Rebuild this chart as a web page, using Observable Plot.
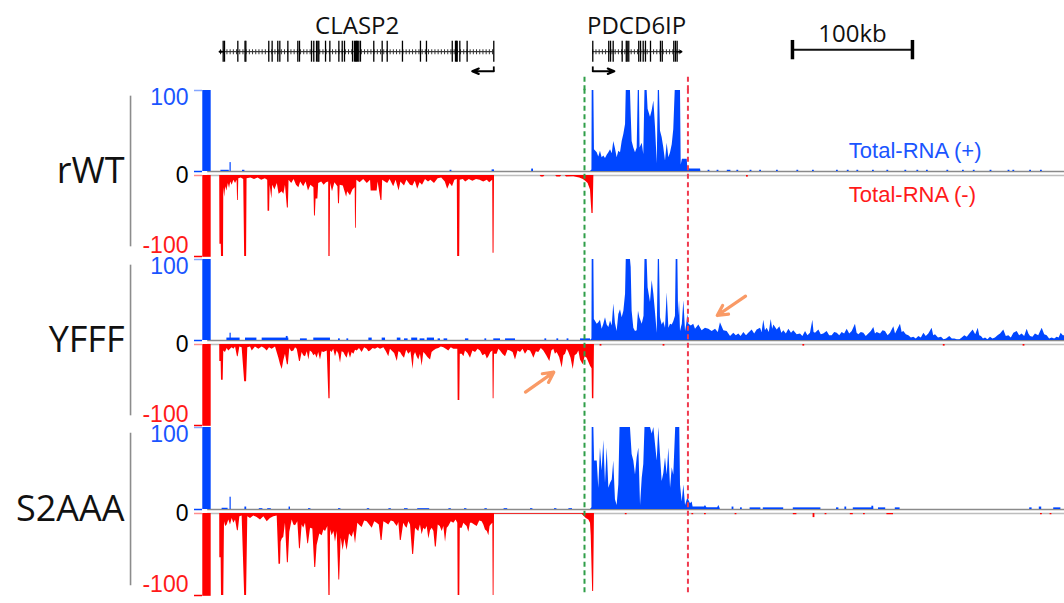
<!DOCTYPE html>
<html><head><meta charset="utf-8">
<script src="https://cdn.jsdelivr.net/npm/d3@7"></script>
<script src="https://cdn.jsdelivr.net/npm/@observablehq/plot@0.6"></script>
<style>
body{margin:0;background:#fff;}
#chart{position:relative;width:1064px;height:603px;overflow:hidden;background:#fff;}
#chart svg{display:block;overflow:visible !important;background:transparent !important;position:relative;}
</style></head><body><div id="chart"></div>
<script>
// ---------- DATA (genomic position in kb from left edge of window, coverage value) ----------
const tracks = ["rWT", "YFFF", "S2AAA"];
const tickLabels = ["100", "0", "-100"];
const strandLabels = ["Total-RNA (+)", "Total-RNA (-)"];
const genes = [
  {name: "CLASP2", start: 1.7, end: 229.4, strand: -1},
  {name: "PDCD6IP", start: 311.9, end: 385, strand: 1}
];
const claspExons = [3.9,5,16.1,22.1,22.8,41.9,44.7,49.4,51.1,57.8,66.1,67.5,77.5,79.4,81.7,82.8,83.6,89.2,92.8,100.3,103.1,105,111.7,113.3,114.3,115,115.8,116.9,118.3,129.4,136.4,140.6,153.3,168.3,173.3,194.8,197.5,198.3,198.9,201.1,207.2,229.4];
const pdcdExons = [311.9,325.2,326.7,328.9,336.4,339.8,340.6,341.9,350.2,351.7,353.9,355.8,360,368.3,369.8,379.4,380.8,382.2];
const scaleBar = {start: 478.3, end: 578.3, label: "100kb"};
const tssLine = 305;     // green dashed
const tesLine = 391.2;   // red dashed

const rWT_plus = [[0,0],[310,0],[311.2,2],[311.4,100],[312.8,100],[313.3,27],[315.6,23],[316.9,18],[318.3,25],[319.7,17],[321.1,19],[322.5,16],[323.9,20],[325.3,23],[326.7,27],[328.1,22],[329.4,37],[330.8,28],[332.2,17],[333.6,25],[335,23],[336.4,37],[337.8,46],[339.2,58],[339.8,100],[343.3,100],[343.9,71],[344.7,37],[346.1,29],[347.5,23],[348.9,29],[349.8,100],[350.8,100],[351.3,29],[353.1,35],[354.4,21],[355.4,100],[357.2,100],[358,77],[360,67],[361.4,75],[362.8,87],[364.2,54],[365.6,10],[366.5,100],[367.5,100],[368.3,50],[369.7,42],[371.1,29],[372.5,13],[373.9,35],[375.3,17],[376.7,23],[378.1,33],[379.4,52],[380.6,100],[385,100],[385.6,8],[386.6,15],[390.6,15],[391.1,4],[393,3],[401.7,3],[402,0],[705,0]];
const rWT_minus = [[0,0],[1,0],[1.2,-85],[2.3,-85],[2.5,-100],[4.2,-100],[4.4,-15],[5.2,-27],[6,-14],[7,-19],[8.2,-10],[9.2,-16],[10.2,-8],[11.4,-12],[12.8,-6],[14.2,-10],[15.5,-6],[15.9,-31],[16.5,-31],[16.9,-4],[19,-3],[21,-5],[21.8,-100],[23.4,-100],[23.8,-4],[27,-3],[30,-5],[33,-3],[36,-6],[39,-4],[41,-6],[41.3,-44],[42.6,-44],[43,-12],[44.5,-29],[45.2,-12],[47,-18],[49,-10],[50.5,-23],[53,-20],[54.5,-23],[55.8,-12],[57.4,-40],[58.2,-40],[58.8,-6],[61,-10],[63,-5],[65,-12],[67,-15],[68.5,-8],[71,-14],[73,-8],[75,-19],[77,-12],[79.5,-15],[80,-50],[80.7,-50],[81.3,-29],[82.8,-29],[83.5,-10],[86,-8],[88,-12],[90,-9],[91.8,-8],[92,-100],[93,-100],[93.4,-10],[95,-20],[97,-9],[99.5,-14],[100,-35],[100.8,-35],[101.4,-12],[104,-13],[106.8,-27],[107.6,-20],[110,-25],[112,-18],[113.9,-15],[114.2,-65],[114.8,-65],[115.3,-6],[118,-9],[121,-5],[124,-10],[126.7,-6],[127.2,-19],[132.2,-19],[133,-8],[135.4,-31],[136.2,-31],[136.8,-6],[139,-8],[141,-10],[143,-5],[146,-14],[148,-6],[150.5,-19],[152,-8],[155,-13],[157,-6],[160,-12],[162,-13],[164,-7],[166,-17],[168,-9],[170,-12],[172.5,-5],[175,-8],[177,-6],[180,-10],[183,-4],[186,-3],[189,-8],[191,-17],[193,-10],[195,-14],[197,-6],[199,-5],[199.3,-100],[201,-100],[201.4,-6],[204,-5],[206,-8],[209,-5],[212,-7],[215,-5],[218,-6],[221,-8],[224,-6],[226,-9],[228.5,-6],[228.8,-96],[229.6,-96],[230,0],[268,0],[269,-2],[271,-2],[272,0],[281,0],[282,-2],[285,-2],[286,0],[289,0],[290,-2],[296,-1.5],[301,-3],[304,-5],[306,-7],[308,-10],[310,-18],[311.2,-47],[312.2,-47],[312.8,0],[705,0]];
const rWT_plusBlips = [[2,9,1.5],[9.6,10.6,11],[20,22,1.5],[193,194.5,1.5],[228,230,2],[261,262.5,3],[408,409.5,1.5],[415.5,417,1.5],[424,427,1.5],[432,433.5,1.5],[443,444.5,1.5],[451,452.5,1.5],[465,466.5,1.5],[482,483.5,1.5],[495,496.5,1.5],[515,516.5,1.5],[524,525.5,1.5],[532,533.5,1.5],[545,546.5,1.5],[557,558.5,1.5],[572,573.5,1.5],[582,583.5,1.5],[590,591.5,1.5],[607,608.5,1.5],[620,621.5,1.5],[629,630.5,1.5],[643,644.5,1.5],[658,659.5,1.5],[662,663.5,1.5],[676,677.5,1.5],[685,686.5,1.5]];
const rWT_minusBlips = [[440,441.5,-2]];

const YFFF_plus = [[0,0],[310,0],[311.2,2],[311.4,100],[312.8,100],[313.2,26],[314,24],[315.6,20],[316.9,22],[318.3,25],[319.7,14],[321.1,20],[322.5,28],[323.9,19],[325.3,16],[326.7,24],[328.1,18],[329.4,45],[330.8,21],[332.2,11],[333.6,32],[335,38],[336.4,28],[337.8,36],[339.2,57],[339.8,100],[343.3,100],[343.9,90],[344.7,36],[346.1,15],[347.5,11],[348.9,12],[350,36],[351.1,28],[353.1,20],[354.6,30],[355.4,100],[357.2,100],[358,65],[360,47],[361.4,74],[362.8,57],[364.2,34],[365.6,9],[366.5,100],[367.5,100],[368.3,28],[369.7,19],[371.1,23],[372.5,15],[373.9,59],[375.3,15],[376.7,20],[378.1,19],[379.4,23],[380.8,30],[381.4,100],[382.8,100],[383.4,30],[384.2,49],[385,11],[386.5,20],[387.8,49],[389.2,11],[390.2,20],[391.1,32],[392,20],[394,18],[396,20],[397.5,14],[400.3,19],[403,12],[405.8,15],[408.6,14],[411.4,11],[414.2,14],[416.5,10],[418.3,22],[421.1,12],[423.9,11],[426.7,5],[429.4,9],[431.5,6],[433.6,8],[435.5,5],[437.8,10],[440,6],[441.9,9],[444.7,13],[446.8,8],[448.9,13],[451.7,15],[453,10],[454.4,25],[455.8,12],[457.2,15],[459,10],[460.6,26],[461.8,14],[462.8,19],[465.6,13],[467.8,17],[469.5,9],[471.1,12],[473.2,8],[475.3,14],[477.5,9],[479.4,12],[482.2,7],[485,8],[487,5],[489.2,11],[491.2,6],[493.3,9],[495.3,25],[496.3,10],[497.5,9],[500.3,13],[502.3,7],[504.4,8],[507.2,11],[509.3,6],[511.4,6],[513.5,10],[515.6,9],[517.7,6],[519.7,10],[521.8,8],[523.9,14],[526,8],[528.1,11],[530.8,20],[532.2,9],[533.6,7],[535.7,10],[537.8,9],[539.8,5],[541.9,8],[544,11],[546.1,16],[547.5,8],[548.9,10],[551.7,8],[553.8,12],[555.8,11],[558,6],[560,9],[562.8,17],[564.2,8],[565.6,12],[568.3,20],[569.7,10],[571.1,11],[573.2,7],[575.3,6],[577.4,3],[579.4,4],[581.5,2],[583.6,5],[585.7,3],[587.8,9],[589.8,5],[591.9,8],[594.7,15],[596,6],[597.5,7],[600,3],[602.5,4],[604.6,1],[606.7,2],[609.4,5],[611.5,2],[613.6,2],[615.7,1],[617.8,1],[619.8,3],[621.9,6],[624,4],[626.1,8],[628.9,13],[631,7],[633.1,15],[634.4,6],[635.8,5],[637.5,2],[639.2,3],[641.2,1],[643.3,4],[645.4,2],[647.5,3],[649.6,6],[651.7,8],[654.4,13],[656.5,5],[658.6,6],[660.7,3],[662.8,9],[665.6,11],[667.6,6],[669.7,8],[671.8,5],[673.9,14],[675.3,8],[676.7,5],[678.7,4],[680.8,8],[683.5,6],[686.4,15],[688.5,7],[690.6,6],[692.6,2],[694.7,3],[696.8,2],[698.9,4],[700.5,3],[702.2,9],[704,6],[705,6]];
const YFFF_minus = [[0,0],[1,0],[1.1,-21],[2.2,-21],[2.5,-44],[3.9,-44],[4.4,-8],[5.8,-10],[7.2,-5],[8.6,-8],[10,-6],[11.4,-4],[12.8,-6],[14.2,-3],[15.8,-15],[16.4,-15],[17.8,-3],[19.7,-4],[21.8,-46],[23.4,-46],[24.4,-4],[26.7,-3],[28.1,-8],[30.8,-3],[33.6,-6],[36.4,-3],[38.5,-5],[40.6,-8],[42.5,-4],[44.7,-6],[47.5,-3],[50.3,-17],[51.7,-25],[53.1,-31],[54.4,-20],[55.8,-12],[57.4,-25],[58.2,-25],[59.4,-5],[61,-9],[62.8,-8],[64.2,-4],[65.6,-6],[67.5,-21],[68.2,-21],[69.7,-10],[71,-14],[72.5,-15],[74,-9],[75.3,-19],[76.5,-8],[78.1,-10],[79.5,-14],[80.8,-12],[82.2,-17],[83.5,-10],[85,-19],[86.4,-9],[87.8,-10],[90.6,-8],[92,-67],[93,-67],[93.4,-8],[94.7,-10],[96,-6],[97.5,-15],[98.9,-8],[100.3,-12],[101.7,-23],[103,-9],[104.4,-10],[105.8,-14],[107.2,-17],[108.5,-9],[110,-17],[111.4,-10],[112.8,-12],[114.2,-7],[115.6,-8],[117.5,-5],[119.7,-10],[121.8,-4],[123.9,-6],[125.3,-9],[126.7,-8],[128.8,-5],[130.8,-6],[133,-4],[135,-6],[137.8,-4],[139.9,-9],[141.9,-15],[143.3,-6],[144.7,-8],[146.8,-11],[149,-21],[150.3,-9],[151.7,-10],[153.3,-14],[155,-17],[156.8,-7],[158.6,-12],[160.4,-9],[162.2,-31],[163.1,-14],[164.2,-10],[165.5,-15],[166.9,-19],[168.3,-12],[169.7,-27],[171.1,-10],[172.5,-12],[174.5,-16],[176.7,-19],[178,-10],[179.4,-8],[181.5,-6],[183.6,-5],[185.7,-3],[187.8,-4],[189.8,-6],[191.9,-8],[194,-4],[196.1,-6],[199.4,-6],[199.7,-69],[201.1,-69],[201.5,-12],[203.1,-12],[204.5,-15],[205.8,-8],[207.9,-11],[210,-17],[212,-8],[214.2,-10],[216.3,-6],[218.3,-8],[220.4,-14],[222.5,-12],[224,-18],[225.3,-15],[227,-10],[228.6,-8],[228.9,-67],[229.6,-67],[230,-12],[232.2,-12],[233.6,-6],[235,-8],[237,-12],[239.2,-15],[241.3,-7],[243.3,-8],[245.5,-10],[247.5,-19],[249.6,-8],[251.7,-10],[253.8,-6],[255.8,-12],[258,-7],[260,-8],[261.4,-12],[262.8,-17],[264.9,-9],[266.9,-10],[269,-5],[271.1,-8],[273.5,-14],[276.1,-21],[277.8,-8],[279.4,-6],[280.8,-12],[282.2,-10],[284.3,-16],[286.4,-29],[287.8,-14],[289.2,-12],[290.6,-6],[292,-10],[293.8,-17],[295.6,-31],[297.2,-14],[298.9,-12],[300.3,-8],[301.7,-19],[303.9,-25],[305.5,-15],[307.2,-17],[308.6,-22],[310,-27],[311.3,-30],[311.6,-67],[312.8,-67],[313.3,0],[705,0]];
const YFFF_plusBlips = [[7,18,3],[9.6,10.6,9],[22.5,32,3],[36.4,58.6,3],[56.5,58,5],[68.3,74,2],[79.4,93.3,3],[100,101.5,2],[107,108.5,2],[125.3,128.1,3],[136.4,139.2,3],[149,152,3],[155,158,2],[161,166,3],[168,172,2],[174,180,3],[183,185,2],[188,191,2],[205.8,208.6,2],[222,223.5,2],[229.4,235,2],[239.2,247.5,2],[272,273.5,2],[282,283.5,2],[290.5,292,2],[301.7,310,2]];
const YFFF_minusBlips = [[318,319.5,-2],[370.5,372,-2],[487,488.5,-2],[604,605.5,-2],[670.5,672,-2]];

const S2AAA_plus = [[0,0],[310,0],[311.2,2],[311.4,100],[312.8,100],[313.4,59],[314.2,59],[315.6,59],[316.9,26],[318.3,75],[319.7,47],[321.1,84],[322.5,32],[323.9,75],[325.3,26],[326.7,32],[328.1,36],[329.4,59],[330.8,12],[332.2,5],[333.6,30],[334.6,100],[343.3,100],[344.7,67],[346.1,59],[347.5,42],[348.9,63],[350.3,75],[351.7,5],[353.1,38],[354.4,55],[355.4,100],[360,100],[361.4,92],[362.8,100],[364.2,79],[365.6,59],[366.9,100],[368.3,67],[369.7,34],[371.1,44],[372.5,63],[373.9,42],[375.3,75],[376.7,26],[378.1,51],[379.4,42],[381,100],[384.4,100],[385,30],[386.4,9],[387.8,30],[389.2,5],[391.1,14],[393.3,7],[394.7,9],[395.5,3],[405,3],[405.8,5],[407,2],[416,2],[416.9,5],[417.8,2],[418.2,0],[705,0]];
const S2AAA_minus = [[0,0],[1,0],[1.1,-54],[2.2,-54],[2.5,-100],[4.4,-100],[5,-10],[6,-16],[7.2,-14],[8.6,-8],[10,-14],[11.4,-6],[12.8,-12],[14.2,-8],[15.8,-21],[16.5,-21],[17.8,-4],[19.7,-3],[21.8,-100],[23.4,-100],[24.4,-4],[26.7,-6],[29.4,-3],[32.2,-5],[35,-8],[37.8,-4],[40.6,-10],[43.3,-6],[46.1,-4],[48.9,-3],[50.4,-62],[51.7,-62],[52.2,-35],[53.1,-31],[54.4,-29],[55.8,-12],[57.4,-60],[58.2,-60],[59.4,-23],[61.4,-8],[62.8,-14],[64.2,-15],[66.1,-10],[67.5,-43],[68.2,-43],[69.7,-14],[71,-18],[72.5,-12],[74.4,-37],[75,-37],[76.7,-18],[78.6,-19],[80.2,-66],[81,-66],[82.2,-39],[84.4,-25],[86.4,-27],[87.8,-20],[89.2,-22],[91.1,-16],[92,-100],[93,-100],[93.4,-20],[94.7,-27],[96.2,-22],[97.5,-35],[98.9,-22],[100.3,-81],[101,-81],[102.2,-30],[103.9,-45],[105.3,-31],[107.2,-45],[109.2,-25],[111.4,-29],[112.8,-22],[114.2,-37],[116.1,-12],[118,-15],[119.7,-17],[121.8,-9],[123.9,-10],[126,-14],[128.1,-18],[130.2,-10],[132.2,-12],[134,-14],[135.5,-33],[136.3,-33],[137.8,-10],[139.9,-12],[141.9,-14],[144,-9],[146.1,-10],[147.5,-13],[149,-16],[150.3,-11],[151.5,-33],[152.3,-33],[154.4,-12],[155.8,-16],[157.2,-18],[158.6,-10],[160,-14],[161.8,-50],[162.6,-50],[164.2,-18],[165.5,-20],[166.9,-22],[168.3,-14],[169.7,-26],[171.1,-18],[172.5,-20],[173.9,-16],[175.3,-31],[176.7,-21],[178.1,-18],[179.5,-22],[180.7,-41],[181.5,-41],[183.1,-14],[184.8,-16],[186.4,-22],[187.8,-16],[189.2,-35],[190.6,-18],[191.9,-16],[194,-10],[196.1,-12],[198,-8],[199.4,-12],[199.7,-100],[201.1,-100],[201.5,-18],[203.1,-18],[204.5,-12],[205.8,-14],[207.2,-16],[208.6,-23],[210,-12],[211.4,-12],[213.5,-14],[215.6,-16],[217.7,-9],[219.7,-10],[221.1,-14],[222.5,-20],[224,-22],[225.3,-27],[226.3,-16],[227.2,-14],[228.6,-12],[228.9,-100],[229.6,-100],[230,-1],[303,-1],[304.4,-3],[306.5,-6],[308.6,-8],[310,-12],[310.6,-27],[311.8,-95],[312.6,-95],[313.3,0],[705,0]];
const S2AAA_plusBlips = [[3,8,1.5],[9.6,10.6,15],[22,23.5,3],[34,37,1],[41,44,1],[58.8,60,3],[75,77,1],[100,102,1],[124,126,1],[142,144,1],[155,158,1],[166,176,1],[192,194,1],[205,207,1],[222,224,1],[238,241,1],[260,262,1],[280,282,1],[292,295,1],[428,429.5,3],[435,436.5,2],[443,452,2],[454,471,2],[479,502,2],[515,517,2],[522,523.5,3],[529,546,2],[544.5,546,4],[550,556,2],[564,568,2],[676,678,2],[684,686,3],[696,702,2]];
const S2AAA_minusBlips = [[339,340.5,-1.5],[394.5,396,-1.5],[405,406.5,-1.5],[430.5,432,-1.5],[479,482,-1.5],[495.5,497,-5],[505.5,507,-1.5],[526.5,529,-1.5],[537.5,539,-1.5],[557,562.5,-1.5],[685,686.5,-1.5],[693,694.5,-1.5]];

// annotation arrows in YFFF track: [x1, y1, x2, y2]
const yfffArrows = [[439.2,54.7,415.6,30.9],[255.8,-63.8,279.4,-39.1]];

// ---------- STYLE ----------
const BLUE = "#0046ff", RED = "#ff0000", BLUE_TXT = "#1a55ff", RED_TXT = "#ff1a1a";
const GREEN_DASH = "#2f9e48", RED_DASH = "#f03a4e", ORANGE = "#f99a66";
const NUM_FONT = "Liberation Sans, Arial, sans-serif";
const LABEL_FONT = "Open Sans, sans-serif";
const X = {domain: [0, 705], range: [218, 1064], axis: null};
const SVG_STYLE = {overflow: "visible", background: "transparent"};

const chart = document.getElementById("chart");

// ---------- GENE ANNOTATION ----------
const tss = g => g.strand < 0 ? g.end : g.start;
const genePlot = Plot.plot({
  width: 1064, height: 88, margin: 0, style: SVG_STYLE,
  x: X, y: {domain: [-1, 1], range: [61.7, 40.7], axis: null},
  marks: [
    Plot.ruleY(genes, {y: 0, x1: "start", x2: "end", stroke: "#111", strokeWidth: 1}),
    Plot.ruleY(genes, {y: 0, x1: "start", x2: "end", stroke: "#333", strokeWidth: 5, strokeDasharray: "1,2.2"}),
    Plot.ruleX(claspExons, {x: d => d, y1: -1, y2: 1, stroke: "#000", strokeWidth: 1.3}),
    Plot.ruleX(pdcdExons, {x: d => d, y1: -1, y2: 1, stroke: "#000", strokeWidth: 1.3}),
    Plot.arrow(genes, {x1: d => d.strand < 0 ? d.start + 3 : d.end - 3, x2: d => d.strand < 0 ? d.start - 1 : d.end + 1, y1: 0, y2: 0, headLength: 6, headAngle: 70, stroke: "#000", strokeWidth: 1.6}),
    Plot.ruleX(genes, {x: tss, y1: -1.45, y2: -1.9, stroke: "#000", strokeWidth: 1.8}),
    Plot.arrow(genes, {x1: tss, x2: d => tss(d) + d.strand * 18, y1: -1.86, y2: -1.86, headLength: 10, headAngle: 45, stroke: "#000", strokeWidth: 2}),
    Plot.text(genes, {x: d => (d.start + d.end) / 2, y: 1.64, text: "name", lineAnchor: "bottom", fontSize: 24, fontFamily: LABEL_FONT, fill: "#111"}),
    Plot.ruleY([scaleBar], {x1: "start", x2: "end", y: 0.18, stroke: "#111", strokeWidth: 2}),
    Plot.ruleX([scaleBar.start, scaleBar.end], {x: d => d, y1: -0.77, y2: 1.07, stroke: "#000", strokeWidth: 3.5}),
    Plot.text([scaleBar], {x: d => (d.start + d.end) / 2, y: 0.9, text: "label", lineAnchor: "bottom", fontSize: 24, fontFamily: LABEL_FONT, fill: "#111"}),
    Plot.ruleX([tssLine], {x: d => d, y1: -2.43, y2: -4, stroke: GREEN_DASH, strokeWidth: 2, strokeDasharray: "5,3.5"}),
    Plot.ruleX([tesLine], {x: d => d, y1: -2.43, y2: -4, stroke: RED_DASH, strokeWidth: 2, strokeDasharray: "5,3.5"})
  ]
});
chart.appendChild(genePlot);

// ---------- COVERAGE TRACKS ----------
const trackData = {
  rWT: [rWT_plus, rWT_minus, rWT_plusBlips, rWT_minusBlips],
  YFFF: [YFFF_plus, YFFF_minus, YFFF_plusBlips, YFFF_minusBlips],
  S2AAA: [S2AAA_plus, S2AAA_minus, S2AAA_plusBlips, S2AAA_minusBlips]
};
const heights = [169, 168, 178];
const yRanges = [[164, 2], [164, 2], [166, 2]];

tracks.forEach((name, i) => {
  const [plus, minus, pB, mB] = trackData[name];
  const extra = [];
  if (name === "rWT") {
    extra.push(Plot.text([strandLabels[0]], {x: 525.3, y: 16.2, text: d => d, textAnchor: "start", lineAnchor: "bottom", fontSize: 22, fontFamily: NUM_FONT, fill: BLUE_TXT}));
    extra.push(Plot.text([strandLabels[1]], {x: 525.3, y: -37.8, text: d => d, textAnchor: "start", lineAnchor: "bottom", fontSize: 22, fontFamily: NUM_FONT, fill: RED_TXT}));
  }
  if (name === "YFFF") {
    extra.push(Plot.arrow(yfffArrows, {x1: d => d[0], y1: d => d[1], x2: d => d[2], y2: d => d[3], stroke: ORANGE, strokeWidth: 3.2, headLength: 13, headAngle: 55}));
  }
  const p = Plot.plot({
    width: 1064, height: heights[i], margin: 0, style: SVG_STYLE,
    x: X, y: {domain: [-100, 100], range: yRanges[i], axis: null},
    marks: [
      Plot.ruleY([0], {x1: -9, x2: 705, stroke: "#8a8a8a", strokeWidth: 1.6}),
      Plot.ruleY([0], {x1: -9, x2: 705, stroke: "#bdbdbd", strokeWidth: 1.6, dy: 4}),
      Plot.area(plus, {x1: d => d[0], y1: 0, y2: d => d[1], fill: BLUE, curve: "linear"}),
      Plot.area(minus, {x1: d => d[0], y1: 0, y2: d => d[1], fill: RED, curve: "linear", dy: 4}),
      Plot.rect(pB, {x1: d => d[0], x2: d => d[1], y1: 0, y2: d => d[2], fill: BLUE}),
      Plot.rect(mB, {x1: d => d[0], x2: d => d[1], y1: 0, y2: d => d[2], fill: RED, dy: 4}),
      // strand bars at left
      Plot.rect([name], {x1: -13.1, x2: -6.1, y1: 0, y2: 100, fill: BLUE}),
      Plot.rect([name], {x1: -13.1, x2: -6.1, y1: 0, y2: -101, fill: RED, dy: 4}),
      // ticks
      Plot.ruleY([100], {x1: -20, x2: -13.3, stroke: "#85a6ff", strokeWidth: 1.5}),
      Plot.ruleY([0], {x1: -20, x2: -13.3, stroke: BLUE, strokeWidth: 1.5}),
      Plot.ruleY([0], {x1: -20, x2: -13.3, stroke: "#ff8c8c", strokeWidth: 1.5, dy: 4}),
      Plot.ruleY([-100], {x1: -20, x2: -13.3, stroke: RED, strokeWidth: 1.5, dy: 4}),
      // tick labels
      Plot.text([tickLabels[0]], {x: -25, y: 100, text: d => d, textAnchor: "end", lineAnchor: "top", dy: -2.3, fontSize: 23, fontFamily: NUM_FONT, fill: BLUE_TXT}),
      Plot.text([tickLabels[1]], {x: -25, y: 0, text: d => d, textAnchor: "end", lineAnchor: "middle", dy: 3.8, fontSize: 23, fontFamily: NUM_FONT, fill: "#000"}),
      Plot.text([tickLabels[2]], {x: -25, y: -100, text: d => d, textAnchor: "end", lineAnchor: "bottom", dy: 0, fontSize: 23, fontFamily: NUM_FONT, fill: RED_TXT}),
      // sample bracket + name
      Plot.ruleX([name], {x: -73.3, y1: 93, y2: -93, stroke: "#8c8c8c", strokeWidth: 1.6}),
      Plot.text([name], {x: -78.3, y: 0, text: d => d, textAnchor: "end", lineAnchor: "middle", fontSize: 36, fontFamily: LABEL_FONT, fill: "#111"}),
      // boundary lines
      Plot.ruleX([tssLine], {x: d => d, y1: 101.5, y2: -103.5, stroke: GREEN_DASH, strokeWidth: 2, strokeDasharray: "5,3.5"}),
      Plot.ruleX([tesLine], {x: d => d, y1: 101.5, y2: -103.5, stroke: RED_DASH, strokeWidth: 2, strokeDasharray: "5,3.5"}),
      ...extra
    ]
  });
  chart.appendChild(p);
});
</script></body></html>
